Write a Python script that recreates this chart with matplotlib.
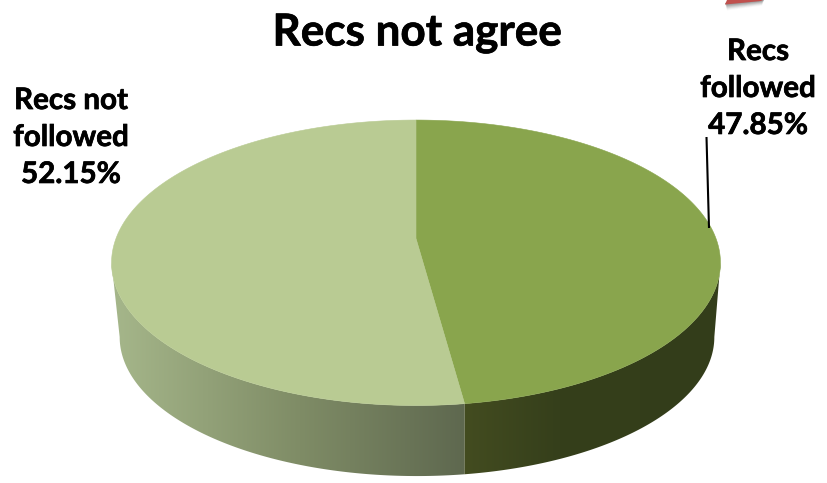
import numpy as np
import matplotlib
matplotlib.use("Agg")
import matplotlib.pyplot as plt
import matplotlib.patheffects as pe
from matplotlib.colors import to_rgb
from matplotlib.patches import Polygon

title = "Recs not agree"
labels = ["Recs\nfollowed", "Recs not\nfollowed"]
values = [47.85, 52.15]
top_colors = ["#89a54d", "#b9cb93"]

K = 0.17
S_TOP, HUB_TOP = (300.0, 138.6), (416.0, 238.5)
S_BASE, HUB_BASE = (293.0, 135.0), (417.0, 313.4)


def project(theta_deg, scale, hub):
    t = np.radians(theta_deg)
    u, v = np.cos(t), np.sin(t)
    w = 1 + K * v
    return hub[0] + scale[0] * u / w, hub[1] - scale[1] * v / w


def ramp_image(ax, x0, x1, stops_x, stops_c, clip_pts):
    xs = np.linspace(x0, x1, 400)
    arr = np.array([to_rgb(c) for c in stops_c])
    img = np.stack([np.interp(xs, stops_x, arr[:, i]) for i in range(3)], axis=-1)[None, :, :]
    im = ax.imshow(img, extent=(x0, x1, 483, 0), aspect="auto", interpolation="bilinear", zorder=1)
    patch = Polygon(clip_pts, closed=True, transform=ax.transData, facecolor="none", edgecolor="none")
    ax.add_patch(patch)
    im.set_clip_path(patch)


def wall(a, b):
    th = np.linspace(a, b, 300)
    x0, y0 = project(th, S_TOP, HUB_TOP)
    x1, y1 = project(th[::-1], S_BASE, HUB_BASE)
    return np.column_stack([np.r_[x0, x1], np.r_[y0, y1]])


fig = plt.figure(figsize=(8.27, 4.83), dpi=100)
ax = fig.add_axes([0, 0, 1, 1])

# slice angles, clockwise from 12 o'clock
seam = 90 - 360 * values[0] / sum(values)
widest = np.degrees(np.arcsin(K))

# side wall: only the front half is visible
ramp_image(ax, 100, 480, [115, 300, 465], ["#a5b68a", "#7f8c66", "#5e684f"], wall(-180 + widest, seam))
ramp_image(ax, 450, 730, [465, 560, 720], ["#434c20", "#353f1b", "#333d1a"], wall(seam, -widest))

ax.set_xlim(0, 827)
ax.set_ylim(483, 0)
ax.axis("off")

# top face
start = 90.0
for val, col in zip(values, top_colors):
    sweep = 360 * val / sum(values)
    th = np.linspace(start, start - sweep, 300)
    xs, ys = project(th, S_TOP, HUB_TOP)
    pts = np.column_stack([np.r_[HUB_TOP[0], xs], np.r_[HUB_TOP[1], ys]])
    ax.add_patch(Polygon(pts, closed=True, facecolor=col, edgecolor=col, linewidth=0.4, zorder=2))
    start -= sweep

# clipped decoration at the top right of the slide
for off, alpha in zip(range(7, 0, -1), np.linspace(0.04, 0.22, 7)):
    ax.add_patch(Polygon([(725, 3), (764, 0), (762, off * 0.8), (727, 3.5 + off)], closed=True,
                         facecolor="#555555", edgecolor="none", alpha=alpha, zorder=3))
ax.add_patch(Polygon([(727, 0), (763, 0), (761, 1), (725, 4.5)], closed=True,
                     facecolor="#c0504d", edgecolor="none", zorder=4))

# leader line
ax.plot([706.5, 709], [137, 228], color="black", lw=1.5, solid_capstyle="butt", zorder=5)

font = dict(family="Lato", fontweight="bold", color="black", ha="center", va="center",
            path_effects=[pe.withStroke(linewidth=0.5, foreground="black")])
ax.text(417, 33, title, fontsize=31.7, **font)
ax.text(758, 88, f"{labels[0]}\n{values[0]:.2f}%", fontsize=21.3, linespacing=1.39, **font)
ax.text(71, 137, f"{labels[1]}\n{values[1]:.2f}%", fontsize=21.3, linespacing=1.39, **font)

fig.savefig("out.png", dpi=100, facecolor="white")
